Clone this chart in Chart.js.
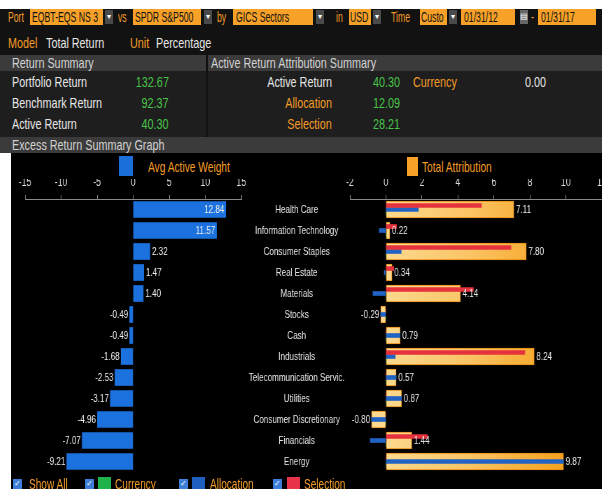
<!DOCTYPE html>
<html>
<head>
<meta charset="utf-8">
<script src="https://cdn.jsdelivr.net/npm/chart.js@4.4.0/dist/chart.umd.min.js"></script>
<style>
  html, body { margin:0; padding:0; width:602px; height:489px; overflow:hidden; background:#fff; }
  body { position:relative; font-family:'Liberation Sans', Arial, sans-serif; }
  .bg { position:absolute; }
  .t { position:absolute; height:18px; line-height:18px; white-space:nowrap; font-size:15px;
       transform:scaleX(.72); transform-origin:0 50%; }
  .h1 { font-size:14px; transform:scaleX(.62); }
  .r { transform-origin:100% 50%; }
  .o { color:#f39c27; }
  .w { color:#e6e6e6; }
  .g { color:#48c448; }
  .k { color:#111; }
  .s { color:#d2d2d2; }
  .box { position:absolute; background:#f7a128; height:16px; }
  .dd { position:absolute; background:#4a4a4a; width:8px; height:14px; color:#fff; font-size:8px; line-height:14px; text-align:center; }
  .cb { position:absolute; width:9px; height:10px; background:#3d7fd8; color:#fff; font-size:8px; line-height:10px; text-align:center; }
  canvas { position:absolute; transform:scaleX(.7); transform-origin:0 0; }
</style>
</head>
<body>
<!-- fond du terminal -->
<div class="bg" style="left:0;top:9px;width:602px;height:144px;background:#121212"></div>
<div class="bg" style="left:0;top:55px;width:206px;height:16px;background:#3b3b3b"></div>
<div class="bg" style="left:208px;top:55px;width:394px;height:16px;background:#3b3b3b"></div>
<div class="bg" style="left:0;top:71px;width:206px;height:66px;background:#1e1e1e"></div>
<div class="bg" style="left:208px;top:71px;width:394px;height:66px;background:#1e1e1e"></div>
<div class="bg" style="left:0;top:137px;width:602px;height:16px;background:#3b3b3b"></div>
<div class="bg" style="left:11px;top:153px;width:591px;height:336px;background:#000"></div>

<!-- ligne 1 -->
<div class="t o h1" style="left:8px;top:8px">Port</div>
<div class="box" style="left:30px;top:9px;width:73px"></div>
<div class="t k h1" style="left:32px;top:8px">EQBT-EQS NS 3</div>
<div class="dd" style="left:105px;top:10px">▾</div>
<div class="t o h1" style="left:118px;top:8px">vs</div>
<div class="box" style="left:133px;top:9px;width:68px"></div>
<div class="t k h1" style="left:135px;top:8px">SPDR S&amp;P500</div>
<div class="dd" style="left:204px;top:10px">▾</div>
<div class="t o h1" style="left:217px;top:8px">by</div>
<div class="box" style="left:233px;top:9px;width:80px"></div>
<div class="t k h1" style="left:236px;top:8px">GICS Sectors</div>
<div class="dd" style="left:316px;top:10px">▾</div>
<div class="t o h1" style="left:336px;top:8px">in</div>
<div class="box" style="left:349px;top:9px;width:22px"></div>
<div class="t k h1" style="left:350px;top:8px">USD</div>
<div class="dd" style="left:373px;top:10px">▾</div>
<div class="t o h1" style="left:391px;top:8px">Time</div>
<div class="box" style="left:420px;top:9px;width:27px"></div>
<div class="t k h1" style="left:421px;top:8px">Custo</div>
<div class="dd" style="left:449px;top:10px">▾</div>
<div class="box" style="left:461px;top:9px;width:54px"></div>
<div class="t k h1" style="left:464px;top:8px">01/31/12</div>
<div class="dd" style="left:520px;top:10px;background:#666">▤</div>
<div class="t o h1" style="left:531px;top:8px">-</div>
<div class="box" style="left:538px;top:9px;width:58px"></div>
<div class="t k h1" style="left:541px;top:8px">01/31/17</div>

<!-- ligne 2 -->
<div class="t o" style="left:8px;top:34px">Model</div>
<div class="t w" style="left:46px;top:34px">Total Return</div>
<div class="t o" style="left:130px;top:34px">Unit</div>
<div class="t w" style="left:156px;top:34px">Percentage</div>

<!-- résumés -->
<div class="t s" style="left:12px;top:54px">Return Summary</div>
<div class="t s" style="left:211px;top:54px">Active Return Attribution Summary</div>
<div class="t w" style="left:12px;top:73px">Portfolio Return</div>
<div class="t w" style="left:12px;top:94px">Benchmark Return</div>
<div class="t w" style="left:12px;top:115px">Active Return</div>
<div class="t g r" style="right:433px;top:73px">132.67</div>
<div class="t g r" style="right:433px;top:94px">92.37</div>
<div class="t g r" style="right:433px;top:115px">40.30</div>
<div class="t w r" style="right:270px;top:73px">Active Return</div>
<div class="t o r" style="right:270px;top:94px">Allocation</div>
<div class="t o r" style="right:270px;top:115px">Selection</div>
<div class="t g" style="left:373px;top:73px">40.30</div>
<div class="t g" style="left:373px;top:94px">12.09</div>
<div class="t g" style="left:373px;top:115px">28.21</div>
<div class="t o" style="left:413px;top:73px">Currency</div>
<div class="t w" style="left:525px;top:73px">0.00</div>
<div class="t s" style="left:12px;top:136px">Excess Return Summary Graph</div>

<!-- titres des graphiques -->
<div class="bg" style="left:119px;top:156px;width:14px;height:20px;background:#1b6fd8"></div>
<div class="t o" style="left:148px;top:158px;font-size:15px;transform:scaleX(.68)">Avg Active Weight</div>
<div class="bg" style="left:407px;top:157px;width:11px;height:19px;background:#f7a128"></div>
<div class="t o" style="left:422px;top:158px;font-size:15px;transform:scaleX(.68)">Total Attribution</div>

<canvas id="weightChart" width="357" height="324" style="left:11px;top:153px"></canvas>
<canvas id="attribChart" width="543" height="340" style="left:240px;top:153px"></canvas>

<!-- légende du bas -->
<div class="cb" style="left:13px;top:479px">✓</div>
<div class="t o" style="left:29px;top:475px;font-size:14px">Show All</div>
<div class="cb" style="left:85px;top:479px">✓</div>
<div class="bg" style="left:98px;top:477px;width:13px;height:14px;background:#1fb34a"></div>
<div class="t o" style="left:115px;top:475px;font-size:14px">Currency</div>
<div class="cb" style="left:179px;top:479px">✓</div>
<div class="bg" style="left:192px;top:477px;width:13px;height:14px;background:#1f5fbf"></div>
<div class="t o" style="left:210px;top:475px;font-size:14px">Allocation</div>
<div class="cb" style="left:273px;top:479px">✓</div>
<div class="bg" style="left:287px;top:477px;width:13px;height:14px;background:#e8344a"></div>
<div class="t o" style="left:304px;top:475px;font-size:14px">Selection</div>

<script>
// données
const categories = ['Health Care', 'Information Technology', 'Consumer Staples', 'Real Estate',
  'Materials', 'Stocks', 'Cash', 'Industrials', 'Telecommunication Servic.', 'Utilities',
  'Consumer Discretionary', 'Financials', 'Energy'];
const avgActiveWeight = [12.84, 11.57, 2.32, 1.47, 1.40, -0.49, -0.49, -1.68, -2.53, -3.17, -4.96, -7.07, -9.21];
const totalAttribution = [7.11, 0.22, 7.80, 0.34, 4.14, -0.29, 0.79, 8.24, 0.57, 0.87, -0.80, 1.44, 9.87];
const allocation = [1.80, -0.37, 0.85, -0.10, -0.72, -0.29, 0.79, 0.52, 0.57, 0.87, -0.80, -0.87, 9.87];
const selection = [5.31, 0.59, 6.95, 0.44, 4.86, 0, 0, 7.72, 0, 0, 0, 2.31, 0];
const currency = [0, 0, 0, 0, 0, 0, 0, 0, 0, 0, 0, 0, 0];
const weightTicks = [-15, -10, -5, 0, 5, 10, 15];
const attribTicks = [-2, 0, 2, 4, 6, 8, 10, 12];

const FONT = "'Liberation Sans', Arial, sans-serif";

// étiquettes de valeur au bout des barres
const valueLabels = {
  id: 'valueLabels',
  afterDatasetsDraw(chart, args, opts) {
    const meta = chart.getDatasetMeta(opts.dataset);
    const vals = chart.data.datasets[opts.dataset].data;
    const ctx = chart.ctx;
    ctx.save();
    ctx.font = opts.size + 'px ' + FONT;
    ctx.fillStyle = '#ececec';
    ctx.textBaseline = 'middle';
    meta.data.forEach((bar, i) => {
      const v = vals[i];
      const txt = v.toFixed(2);
      const w = ctx.measureText(txt).width;
      if (v < 0) {
        ctx.textAlign = 'right';
        ctx.fillText(txt, bar.x - 2, bar.y);
      } else if (bar.x + w + 4 > chart.chartArea.right - opts.inside) {
        ctx.textAlign = 'right';
        ctx.fillText(txt, bar.x - 2, bar.y);
      } else {
        ctx.textAlign = 'left';
        ctx.fillText(txt, bar.x + 3, bar.y);
      }
    });
    ctx.restore();
  }
};

function topAxis(min, max, list) {
  return {
    position: 'top', min: min, max: max,
    afterBuildTicks: s => { s.ticks = list.map(v => ({ value: v })); },
    afterFit: s => { s.height = 20; },
    grid: { drawOnChartArea: false, drawTicks: true, tickLength: 4, color: '#8a8a8a' },
    border: { color: '#8a8a8a' },
    ticks: { color: '#dcdcdc', padding: 5, autoSkip: false, maxRotation: 0, font: { family: FONT, size: 12.5 } }
  };
}

// graphique de gauche : poids actif moyen
new Chart(document.getElementById('weightChart'), {
  type: 'bar',
  data: {
    labels: categories,
    datasets: [{ label: 'Avg Active Weight', data: avgActiveWeight, backgroundColor: '#1b72de', barThickness: 16 }]
  },
  options: {
    indexAxis: 'y', responsive: false, animation: false,
    layout: { padding: { left: 20, right: 28, top: 26, bottom: 5 } },
    plugins: { legend: { display: false }, tooltip: { enabled: false }, valueLabels: { dataset: 0, size: 11.5, inside: 20 } },
    scales: { x: topAxis(-15, 15, weightTicks), y: { display: false } }
  },
  plugins: [valueLabels]
});

// dégradé jaune -> orange des barres d'attribution totale
function orangeFill(c) {
  const chart = c.chart;
  if (!chart.chartArea) return '#f9bb50';
  const x0 = chart.scales.x.getPixelForValue(0);
  const x1 = chart.scales.x.getPixelForValue(10);
  const g = chart.ctx.createLinearGradient(x0, 0, x1, 0);
  g.addColorStop(0, '#fcd98e');
  g.addColorStop(0.45, '#fbc566');
  g.addColorStop(1, '#f6a11c');
  return g;
}

// largeur de la plus longue catégorie, pour centrer les libellés
const probe = document.createElement('canvas').getContext('2d');
probe.font = '11.5px ' + FONT;
const widest = Math.max(...categories.map(c => probe.measureText(c).width));
const yAxisWidth = 157;
const labelCenter = 81;

new Chart(document.getElementById('attribChart'), {
  type: 'bar',
  data: {
    labels: categories,
    datasets: [
      { label: 'Selection', data: selection, backgroundColor: '#e5323c', barThickness: 4, order: 0 },
      { label: 'Allocation', data: allocation, backgroundColor: '#2163c4', barThickness: 4, order: 1 },
      { label: 'Currency', data: currency, backgroundColor: '#1fb34a', barThickness: 4, order: 2 },
      { label: 'Total Attribution', data: totalAttribution, grouped: false, barThickness: 17, order: 3,
        backgroundColor: orangeFill, borderColor: '#e48c12', borderWidth: 1, borderSkipped: false }
    ]
  },
  options: {
    indexAxis: 'y', responsive: false, animation: false,
    layout: { padding: { left: 0, right: 26, top: 26, bottom: 21 } },
    plugins: { legend: { display: false }, tooltip: { enabled: false }, valueLabels: { dataset: 3, size: 11.5, inside: 0 } },
    scales: {
      x: topAxis(-2, 12, attribTicks),
      y: {
        afterFit: s => { s.width = yAxisWidth; },
        grid: { display: false, drawTicks: false },
        border: { display: false },
        ticks: { color: '#e6e6e6', crossAlign: 'center', autoSkip: false,
                 padding: Math.max(0, yAxisWidth - labelCenter - widest / 2),
                 font: { family: FONT, size: 11.5 } }
      }
    }
  },
  plugins: [valueLabels]
});
</script>
</body>
</html>
